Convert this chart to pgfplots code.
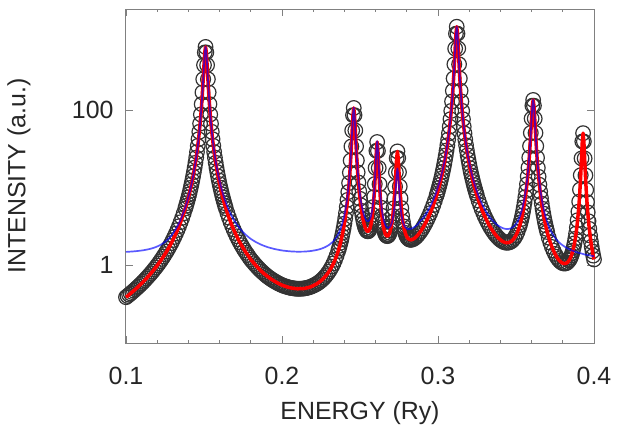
\documentclass[border=0pt]{standalone}
\usepackage{fontspec}
\setmainfont{Liberation Sans}
\usepackage{pgfplots}
\usepackage{pgfplotstable}
\pgfplotsset{compat=1.18}
\pgfplotstableread{
x r b
0.100 0.389 1.490
0.101 0.403 1.494
0.102 0.419 1.499
0.103 0.435 1.503
0.104 0.453 1.508
0.105 0.472 1.514
0.106 0.491 1.520
0.107 0.513 1.527
0.108 0.535 1.535
0.109 0.560 1.544
0.110 0.585 1.553
0.111 0.613 1.564
0.112 0.643 1.576
0.113 0.676 1.590
0.114 0.711 1.605
0.115 0.749 1.622
0.116 0.790 1.641
0.117 0.834 1.663
0.118 0.884 1.688
0.119 0.937 1.717
0.120 0.996 1.750
0.121 1.060 1.787
0.122 1.131 1.830
0.123 1.211 1.881
0.124 1.298 1.938
0.125 1.396 2.005
0.126 1.506 2.083
0.127 1.630 2.174
0.128 1.771 2.282
0.129 1.930 2.407
0.130 2.113 2.556
0.131 2.323 2.732
0.132 2.568 2.944
0.133 2.854 3.196
0.134 3.192 3.501
0.135 3.594 3.871
0.136 4.079 4.325
0.137 4.670 4.887
0.138 5.400 5.588
0.1385 5.832 6.007
0.139 6.32 6.48
0.1395 6.87 7.019
0.140 7.50 7.64
0.1405 8.21 8.335
0.141 9.04 9.15
0.1415 9.99 10.09
0.142 11.10 11.19
0.1425 12.42 12.50
0.143 13.98 14.05
0.1435 15.85 15.91
0.144 18.13 18.19
0.1445 20.92 20.97
0.145 24.40 24.44
0.1455 28.82 28.86
0.146 34.54 34.57
0.1465 42.10 42.12
0.147 52.4 52.4
0.1475 66.74 66.76
0.148 87.6 87.6
0.1485 119.1 119.1
0.149 168.6 168.6
0.1495 249.4 249.4
0.150 379.3 379.3
0.1505 551.6 551.6
0.151 650.1 651.1
0.1515 551.6 552.6
0.152 379.3 380.3
0.1525 249.4 250.4
0.153 168.6 169.6
0.1535 119.1 120.1
0.154 87.6 88.6
0.1545 66.75 67.75
0.155 52.4 53.4
0.1555 42.11 43.11
0.156 34.55 35.55
0.1565 28.83 29.83
0.157 24.41 25.41
0.1575 20.93 21.93
0.158 18.14 19.14
0.1585 15.86 16.86
0.159 13.99 14.99
0.1595 12.44 13.44
0.160 11.12 12.12
0.1605 10.01 11.01
0.161 9.06 10.06
0.1615 8.233 9.233
0.162 7.52 8.52
0.1625 6.893 7.893
0.163 6.34 7.34
0.1635 5.857 6.857
0.164 5.43 6.43
0.165 4.698 5.698
0.166 4.11 5.11
0.167 3.626 4.626
0.168 3.23 4.23
0.169 2.891 3.891
0.170 2.61 3.61
0.171 2.364 3.364
0.172 2.16 3.16
0.173 1.976 2.976
0.174 1.82 2.82
0.175 1.681 2.681
0.176 1.56 2.56
0.177 1.451 2.451
0.178 1.36 2.36
0.179 1.271 2.271
0.180 1.19 2.19
0.181 1.127 2.127
0.182 1.065 2.065
0.183 1.010 2.010
0.184 0.959 1.959
0.185 0.913 1.913
0.186 0.871 1.871
0.187 0.833 1.833
0.188 0.799 1.799
0.189 0.767 1.767
0.190 0.738 1.738
0.191 0.711 1.711
0.192 0.688 1.688
0.193 0.666 1.666
0.194 0.647 1.647
0.195 0.627 1.627
0.196 0.612 1.612
0.197 0.595 1.595
0.198 0.582 1.582
0.199 0.568 1.568
0.200 0.556 1.556
0.201 0.546 1.546
0.202 0.538 1.538
0.203 0.529 1.529
0.204 0.523 1.523
0.205 0.516 1.516
0.206 0.511 1.511
0.207 0.507 1.507
0.208 0.504 1.504
0.209 0.501 1.501
0.210 0.499 1.499
0.211 0.500 1.500
0.212 0.500 1.500
0.213 0.502 1.502
0.214 0.503 1.503
0.215 0.507 1.507
0.216 0.513 1.513
0.217 0.519 1.519
0.218 0.526 1.526
0.219 0.536 1.536
0.220 0.548 1.548
0.221 0.560 1.560
0.222 0.574 1.574
0.223 0.592 1.592
0.224 0.611 1.611
0.225 0.634 1.634
0.226 0.661 1.661
0.227 0.693 1.693
0.228 0.730 1.730
0.229 0.774 1.774
0.230 0.826 1.826
0.231 0.889 1.889
0.232 0.965 1.965
0.233 1.059 2.051
0.234 1.178 2.169
0.235 1.329 2.320
0.236 1.524 2.515
0.2365 1.644 2.634
0.237 1.785 2.775
0.2375 1.949 2.939
0.238 2.144 3.134
0.2385 2.378 3.367
0.239 2.661 3.650
0.2395 3.009 3.998
0.240 3.444 4.432
0.2405 3.996 4.984
0.241 4.712 5.700
0.2415 5.663 6.650
0.242 6.959 7.946
0.2425 8.789 9.775
0.243 11.48 12.47
0.2435 15.62 16.61
0.244 22.37 23.36
0.2445 33.98 34.97
0.245 54.48 55.46
0.2455 85.84 86.82
0.246 106.4 107.4
0.2465 85.87 86.85
0.247 54.54 55.52
0.2475 34.06 35.04
0.248 22.48 23.46
0.2485 15.76 16.74
0.249 11.66 12.64
0.2495 9.00 9.98
0.250 7.201 8.178
0.2505 5.944 6.920
0.251 5.038 6.012
0.2515 4.368 5.341
0.252 3.869 4.841
0.2525 3.492 4.463
0.253 3.209 4.178
0.2535 3.003 3.971
0.254 2.859 3.825
0.2545 2.774 3.739
0.255 2.741 3.704
0.2555 2.768 3.729
0.256 2.861 3.820
0.2565 3.036 3.992
0.257 3.325 4.278
0.2575 3.774 4.725
0.258 4.485 5.432
0.2585 5.634 6.578
0.259 7.594 8.534
0.2595 11.15 12.09
0.260 17.96 18.89
0.2605 29.84 30.77
0.261 38.76 39.68
0.2615 29.82 30.73
0.262 17.92 18.83
0.2625 11.09 11.99
0.263 7.514 8.403
0.2635 5.530 6.409
0.264 4.356 5.222
0.2645 3.618 4.470
0.265 3.136 3.971
0.2655 2.817 3.633
0.266 2.607 3.400
0.2665 2.473 3.237
0.267 2.401 3.131
0.2675 2.379 3.067
0.268 2.405 3.041
0.2685 2.482 3.051
0.269 2.618 3.100
0.2695 2.827 3.194
0.270 3.140 3.349
0.2705 3.610 3.597
0.271 4.319 3.978
0.2715 5.423 4.579
0.272 7.232 5.569
0.2725 10.34 7.274
0.273 15.80 10.28
0.2735 24.03 14.80
0.274 29.34 17.72
0.2745 24.04 14.81
0.275 15.82 10.30
0.2755 10.37 7.304
0.276 7.270 5.607
0.2765 5.466 4.622
0.277 4.363 4.022
0.2775 3.654 3.641
0.278 3.177 3.386
0.2785 2.852 3.219
0.279 2.622 3.104
0.2795 2.459 3.028
0.280 2.341 2.977
0.2805 2.258 2.946
0.281 2.201 2.931
0.2815 2.164 2.928
0.282 2.142 2.935
0.2825 2.134 2.950
0.283 2.137 2.972
0.284 2.172 3.038
0.285 2.237 3.126
0.286 2.330 3.237
0.287 2.448 3.369
0.288 2.595 3.595
0.289 2.769 3.769
0.290 2.976 3.976
0.291 3.221 4.221
0.292 3.506 4.506
0.293 3.842 4.842
0.294 4.238 5.238
0.295 4.711 5.711
0.296 5.278 6.278
0.297 5.964 6.964
0.298 6.803 7.803
0.299 7.846 8.846
0.2995 8.463 9.463
0.300 9.158 10.16
0.3005 9.946 10.95
0.301 10.85 11.85
0.3015 11.86 12.86
0.302 13.05 14.05
0.3025 14.42 15.42
0.303 16.02 17.02
0.3035 17.91 18.91
0.304 20.15 21.15
0.3045 22.85 23.85
0.305 26.13 27.13
0.3055 30.17 31.17
0.306 35.22 36.22
0.3065 41.65 42.65
0.307 49.99 50.99
0.3075 61.07 62.07
0.308 76.20 77.20
0.3085 97.56 98.56
0.309 128.9 129.9
0.3095 177.1 178.1
0.310 255.1 256.1
0.3105 388.3 389.3
0.311 619.2 620.2
0.3115 963.2 964.2
0.312 1182 1183
0.3125 963.2 964.2
0.313 619.2 620.2
0.3135 388.3 389.3
0.314 255.1 256.1
0.3145 177.1 178.1
0.315 128.9 129.9
0.3155 97.56 98.56
0.316 76.2 77.2
0.3165 61.07 62.07
0.317 49.99 50.99
0.3175 41.65 42.65
0.318 35.22 36.22
0.3185 30.18 31.18
0.319 26.14 27.14
0.3195 22.86 23.86
0.320 20.16 21.16
0.3205 17.92 18.92
0.321 16.03 17.03
0.3215 14.43 15.43
0.322 13.06 14.06
0.3225 11.87 12.87
0.323 10.86 11.86
0.3235 9.957 10.96
0.324 9.17 10.17
0.3245 8.475 9.475
0.325 7.858 8.858
0.326 6.818 7.808
0.327 5.980 6.970
0.328 5.294 6.284
0.329 4.730 5.719
0.330 4.258 5.247
0.331 3.862 4.851
0.332 3.526 4.514
0.333 3.240 4.228
0.334 2.997 3.984
0.335 2.788 3.775
0.336 2.610 3.597
0.337 2.457 3.443
0.338 2.328 3.314
0.339 2.220 3.205
0.340 2.131 3.115
0.341 2.060 3.044
0.342 2.007 2.990
0.343 1.971 2.953
0.344 1.954 2.936
0.345 1.959 2.940
0.346 1.985 2.965
0.347 2.038 3.017
0.348 2.125 3.103
0.349 2.253 3.230
0.350 2.437 3.413
0.351 2.696 3.671
0.352 3.065 4.039
0.3525 3.306 4.279
0.353 3.596 4.569
0.3535 3.950 4.922
0.354 4.381 5.352
0.3545 4.919 5.890
0.355 5.594 6.564
0.3555 6.456 7.425
0.356 7.576 8.544
0.3565 9.066 10.03
0.357 11.09 12.06
0.3575 13.95 14.91
0.358 18.10 19.06
0.3585 24.40 25.36
0.359 34.37 35.33
0.3595 50.79 51.75
0.360 77.56 78.52
0.3605 113.8 114.8
0.361 134.9 135.9
0.3615 113.8 114.8
0.362 77.52 78.47
0.3625 50.73 51.68
0.363 34.29 35.24
0.3635 24.30 25.25
0.364 17.98 18.93
0.3645 13.81 14.76
0.365 10.93 11.87
0.3655 8.884 9.826
0.366 7.374 8.314
0.3665 6.233 7.170
0.367 5.350 6.285
0.3675 4.652 5.584
0.368 4.093 5.023
0.3685 3.639 4.566
0.369 3.264 4.188
0.3695 2.951 3.871
0.370 2.687 3.604
0.371 2.271 3.180
0.372 1.963 2.863
0.373 1.727 2.617
0.374 1.547 2.426
0.375 1.404 2.269
0.376 1.293 2.141
0.377 1.208 2.037
0.378 1.141 1.946
0.379 1.094 1.870
0.380 1.065 1.806
0.381 1.054 1.750
0.382 1.061 1.700
0.383 1.092 1.656
0.384 1.154 1.617
0.3845 1.202 1.600
0.385 1.261 1.583
0.3855 1.337 1.567
0.386 1.433 1.551
0.3865 1.557 1.537
0.387 1.716 1.523
0.3875 1.923 1.510
0.388 2.198 1.498
0.3885 2.568 1.486
0.389 3.081 1.474
0.3895 3.815 1.464
0.390 4.907 1.454
0.3905 6.614 1.443
0.391 9.449 1.433
0.3915 14.49 1.426
0.392 23.82 1.420
0.3925 39.35 1.410
0.393 50.40 1.400
0.3935 39.33 1.390
0.394 23.78 1.380
0.3945 14.43 1.374
0.395 9.385 1.369
0.3955 6.533 1.362
0.396 4.808 1.355
0.3965 3.700 1.349
0.397 2.950 1.343
0.3975 2.419 1.337
0.398 2.031 1.331
0.3985 1.738 1.325
0.399 1.512 1.319
0.3995 1.334 1.314
0.400 1.191 1.309
}\datatable
\begin{document}
\begin{tikzpicture}
\begin{axis}[
  scale only axis, width=468bp, height=334bp,
  xmin=0.1, xmax=0.4, ymode=log, ymin=0.1, ymax=2000,
  xtick={0.1,0.2,0.3,0.4}, xticklabels={0.1,0.2,0.3,0.4},
  minor x tick num=4,
  ytick={1,100}, yticklabels={1,100}, yminorticks=false,
  tick align=inside,
  major tick length=7bp, minor tick length=3.5bp,
  axis line style={black!50, line width=1bp},
  every tick/.style={black!50, line width=0.9bp},
  tick label style={font=\fontsize{25}{30}\selectfont, text=black!85},
  xticklabel style={yshift=-21bp},
  yticklabel style={xshift=-9bp},
  xlabel={ENERGY (Ry)}, ylabel={INTENSITY (a.u.)},
  label style={font=\fontsize{25}{30}\selectfont, text=black!85},
  xlabel style={at={(axis description cs:0.5,-0.2096)}, anchor=center},
  ylabel style={at={(axis description cs:-0.2286,0.5)}, anchor=center},
  clip=false,
  clip marker paths=true,
]
\addplot[only marks, mark=o, mark size=7.3bp, mark options={draw=black!80, line width=1.2bp}] table[x=x,y=r]{\datatable};
\addplot[red, line width=3.5bp, no marks, line join=round] table[x=x,y=r]{\datatable};
\addplot[blue, opacity=0.65, line width=1.7bp, no marks, line join=round] table[x=x,y=b]{\datatable};
\coordinate (sw) at (rel axis cs:0,0);
\coordinate (ne) at (rel axis cs:1,1);
\end{axis}
\pgfresetboundingbox
\path[use as bounding box] ([shift={(-126bp,-85bp)}]sw) rectangle ([shift={(24bp,9bp)}]ne);
\end{tikzpicture}
\end{document}
